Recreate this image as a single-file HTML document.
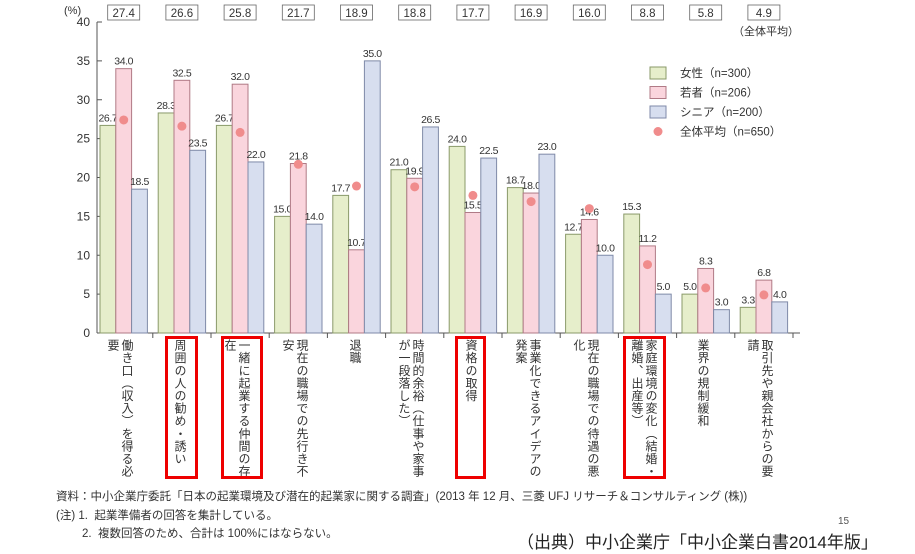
<!DOCTYPE html>
<html><head><meta charset="utf-8">
<style>
body{margin:0;width:915px;height:554px;background:#fff;overflow:hidden;position:relative;font-family:"Liberation Sans","Noto Sans CJK JP",sans-serif;color:#333}
.cat{position:absolute;top:339px;writing-mode:vertical-rl;font-size:12px;line-height:14px;letter-spacing:0.6px;color:#333;white-space:nowrap}
.rb{position:absolute;border:3px solid #e00;box-sizing:border-box}
.note{position:absolute;left:56px;font-size:11.5px;color:#333;white-space:nowrap}
</style></head><body>
<svg width="915" height="554" style="position:absolute;left:0;top:0" id="chart"></svg>

<div class="cat" style="left:106px">働き口（収入）を得る必<br>要</div>
<div class="cat" style="left:173px">周囲の人の勧め・誘い</div>
<div class="cat" style="left:223px">一緒に起業する仲間の存<br>在</div>
<div class="cat" style="left:281px">現在の職場での先行き不<br>安</div>
<div class="cat" style="left:348px">退職</div>
<div class="cat" style="left:397px">時間的余裕（仕事や家事<br>が一段落した）</div>
<div class="cat" style="left:464px">資格の取得</div>
<div class="cat" style="left:514px">事業化できるアイデアの<br>発案</div>
<div class="cat" style="left:572px">現在の職場での待遇の悪<br>化</div>
<div class="cat" style="left:630px">家庭環境の変化（結婚・<br>離婚、出産等）</div>
<div class="cat" style="left:696px">業界の規制緩和</div>
<div class="cat" style="left:746px">取引先や親会社からの要<br>請</div>

<div class="rb" style="left:165px;top:336px;width:33px;height:143px"></div>
<div class="rb" style="left:221px;top:336px;width:42px;height:143px"></div>
<div class="rb" style="left:455px;top:336px;width:31px;height:143px"></div>
<div class="rb" style="left:623px;top:336px;width:43px;height:143px"></div>

<div class="note" style="top:488px">資料：中小企業庁委託「日本の起業環境及び潜在的起業家に関する調査」(2013 年 12 月、三菱 UFJ リサーチ＆コンサルティング (株))</div>
<div class="note" style="top:507px">(注) 1.&nbsp; 起業準備者の回答を集計している。</div>
<div class="note" style="top:525px;left:82px">2.&nbsp; 複数回答のため、合計は 100%にはならない。</div>
<div style="position:absolute;left:838px;top:516px;font-size:10px;color:#555">15</div>
<div style="position:absolute;left:517px;top:528px;font-size:17px;color:#222;white-space:nowrap">（出典）中小企業庁「中小企業白書2014年版」</div>

<script>
const categories=["働き口（収入）を得る必要","周囲の人の勧め・誘い","一緒に起業する仲間の存在","現在の職場での先行き不安","退職","時間的余裕","資格の取得","事業化できるアイデアの発案","現在の職場での待遇の悪化","家庭環境の変化","業界の規制緩和","取引先や親会社からの要請"];
const women=[26.7,28.3,26.7,15.0,17.7,21.0,24.0,18.7,12.7,15.3,5.0,3.3];
const youth=[34.0,32.5,32.0,21.8,10.7,19.9,15.5,18.0,14.6,11.2,8.3,6.8];
const senior=[18.5,23.5,22.0,14.0,35.0,26.5,22.5,23.0,10.0,5.0,3.0,4.0];
const overall=[27.4,26.6,25.8,21.7,18.9,18.8,17.7,16.9,16.0,8.8,5.8,4.9];
const yTicks=[0,5,10,15,20,25,30,35,40];
const seriesNames=["女性（n=300）","若者（n=206）","シニア（n=200）","全体平均（n=650）"];

const svg=document.getElementById('chart');
const NS='http://www.w3.org/2000/svg';
const y0=333,y1=22,ymax=40;
const y=v=>y0-(y0-y1)*v/ymax;
const gx=i=>100+i*58.2;
const bw=15.8;
function mk(t,a,txt){const e=document.createElementNS(NS,t);for(const k in a)e.setAttribute(k,a[k]);if(txt!==undefined)e.textContent=txt;svg.appendChild(e);return e;}

let e=mk('line',{x1:97,y1:y(0),x2:97,y2:y(40),stroke:'#555','stroke-width':1});


e=mk('line',{x1:97,y1:y(0),x2:800,y2:y(0),stroke:'#555','stroke-width':1});


yTicks.forEach(t=>{
  let l=mk('line',{x1:97,x2:102,y1:y(t),y2:y(t),stroke:'#555'});
  
  
  let tx=mk('text',{x:90,y:y(t)+4,'font-size':12,'text-anchor':'end',fill:'#333'},String(t));
  
  
});
e=mk('text',{x:64,y:14,'font-size':11,fill:'#333'},'(%)');


e=mk('text',{x:733,y:35,'font-size':11,fill:'#333'},'（全体平均）');



const cols=[['#e6eecb','#8a9a6a'],['#fad5dd','#b07a86'],['#d7deef','#7f8aa8']];
const series=[women,youth,senior];
categories.forEach((c,i)=>{
  const bx=gx(i);
  e=mk('line',{x1:bx+bw*1.5+29.1,x2:bx+bw*1.5+29.1,y1:y0,y2:y0+5,stroke:'#555'});
  
  
  series.forEach((s,k)=>{
    const x=bx+k*bw;
    let r=mk('rect',{x:x,y:y(s[i]),width:bw,height:y0-y(s[i]),fill:cols[k][0],stroke:cols[k][1],'stroke-width':1});
    
    
    let t=mk('text',{x:x+bw/2,y:y(s[i])-4,'font-size':10.5,'text-anchor':'middle',fill:'#333','letter-spacing':'-0.4'},s[i].toFixed(1));
    
    
  });
  let d=mk('circle',{cx:bx+bw*1.5,cy:y(overall[i]),r:4.5,fill:'#f08c8c'});
  
  
  let b=mk('rect',{x:bx+bw*1.5-16,y:5,width:32,height:15,fill:'#fff',stroke:'#666','stroke-width':0.8});
  
  
  let t=mk('text',{x:bx+bw*1.5,y:17,'font-size':11.5,'text-anchor':'middle',fill:'#333'},overall[i].toFixed(1));
  
  
});

seriesNames.forEach((n,k)=>{
  const ly=73+k*19.5;
  let m;
  if(k<3){m=mk('rect',{x:650,y:ly-6,width:16,height:12,fill:cols[k][0],stroke:cols[k][1]});}
  else{m=mk('circle',{cx:658,cy:ly,r:4.5,fill:'#f08c8c'});}
  
  
  let t=mk('text',{x:680,y:ly+4,'font-size':11.5,fill:'#333'},n);
  
  
});
</script>
</body></html>
